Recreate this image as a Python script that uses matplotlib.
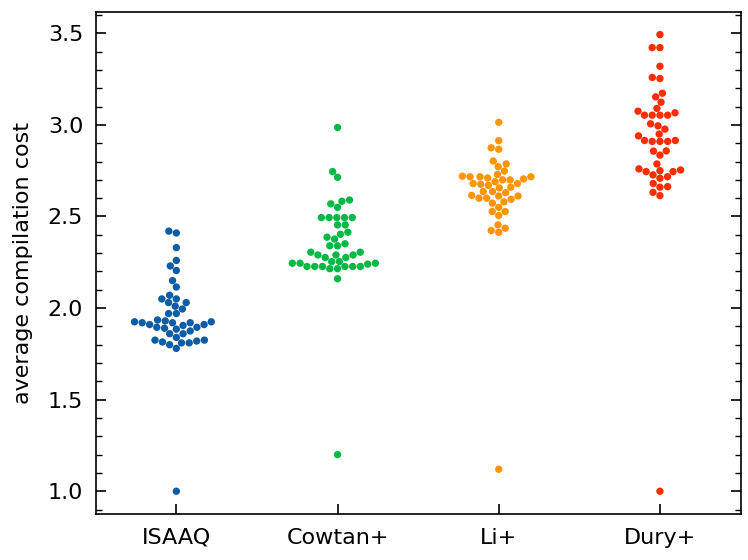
import matplotlib
matplotlib.use("Agg")
import matplotlib.pyplot as plt
from matplotlib.ticker import MultipleLocator
import numpy as np
import pandas as pd
import seaborn as sns

methods = ["ISAAQ", "Cowtan+", "Li+", "Dury+"]
colors = ["#0C5DA5", "#00B945", "#FF9500", "#FF2C00"]

isaaq = [2.42, 2.41, 2.33, 2.26, 2.23, 2.205, 2.15, 2.115, 2.07, 2.05, 2.05,
         2.03, 2.03, 2.01, 1.995, 1.97, 1.97, 1.935, 1.925, 1.91, 1.895, 1.93,
         1.91, 1.92, 1.925, 1.92, 1.92, 1.905, 1.895, 1.89, 1.885, 1.875, 1.86,
         1.86, 1.84, 1.825, 1.825, 1.82, 1.815, 1.81, 1.80, 1.81, 1.78, 1.0]
cowtan = [2.986, 2.745, 2.714, 2.59, 2.583, 2.569, 2.55, 2.494, 2.494, 2.494,
          2.494, 2.494, 2.454, 2.454, 2.414, 2.403, 2.387, 2.377, 2.351, 2.34,
          2.34, 2.305, 2.305, 2.29, 2.29, 2.29, 2.276, 2.276, 2.254, 2.254,
          2.245, 2.245, 2.245, 2.24, 2.227, 2.227, 2.227, 2.227, 2.227, 2.227,
          2.215, 2.215, 2.16, 1.2]
li = [3.014, 2.914, 2.875, 2.867, 2.803, 2.787, 2.772, 2.748, 2.717, 2.717,
      2.717, 2.72, 2.73, 2.71, 2.705, 2.70, 2.70, 2.69, 2.68, 2.68, 2.676,
      2.67, 2.66, 2.656, 2.636, 2.636, 2.63, 2.612, 2.612, 2.615, 2.60, 2.60,
      2.594, 2.58, 2.573, 2.55, 2.527, 2.527, 2.505, 2.454, 2.436, 2.423,
      2.414, 1.12]
dury = [3.493, 3.422, 3.422, 3.32, 3.259, 3.253, 3.173, 3.153, 3.124, 3.09,
        3.075, 3.066, 3.053, 3.053, 3.053, 3.053, 3.006, 2.995, 2.977, 2.95,
        2.94, 2.915, 2.915, 2.91, 2.91, 2.91, 2.857, 2.858, 2.835, 2.787,
        2.754, 2.745, 2.745, 2.76, 2.75, 2.727, 2.717, 2.709, 2.68, 2.663,
        2.66, 2.632, 2.614, 1.0]

costs = [isaaq, cowtan, li, dury]
df = pd.DataFrame({
    "method": [m for m, v in zip(methods, costs) for _ in v],
    "cost": [x for v in costs for x in v],
})

plt.rcParams["font.family"] = ["DejaVu Sans"]
plt.rcParams["font.size"] = 16

fig, ax = plt.subplots(figsize=(7.48, 5.6), dpi=100)
sns.swarmplot(data=df, x="method", y="cost", hue="method", order=methods,
              palette=colors, size=5.3, legend=False, ax=ax)

ax.set_xlabel("")
ax.set_ylabel("average compilation cost", labelpad=11)
ax.yaxis.set_major_locator(MultipleLocator(0.5))
ax.yaxis.set_minor_locator(MultipleLocator(0.1))
ax.tick_params(axis="y", which="both", direction="in", left=True, right=True)
ax.tick_params(axis="y", which="major", length=7, width=1.2, pad=9)
ax.tick_params(axis="y", which="minor", length=4, width=1.0)
ax.tick_params(axis="x", which="major", direction="in", length=7, width=1.2, pad=10)
for s in ax.spines.values():
    s.set_linewidth(1.2)

fig.subplots_adjust(left=0.128, right=0.99, top=0.979, bottom=0.082)
fig.savefig("out.png", dpi=100)
